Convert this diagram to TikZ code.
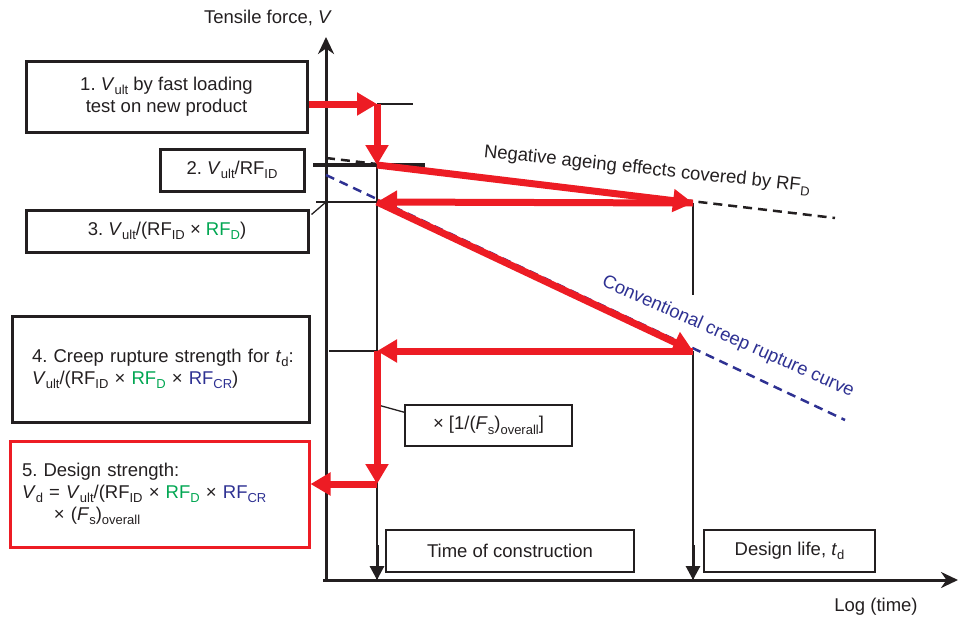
\documentclass[tikz,border=0pt]{standalone}
\usepackage{fontspec}
\setmainfont{Liberation Sans}
\usetikzlibrary{arrows.meta, positioning, calc}
\definecolor{rfRed}{RGB}{237,28,36}
\definecolor{rfGreen}{RGB}{0,166,81}
\definecolor{rfBlue}{RGB}{46,49,146}
\definecolor{rfInk}{RGB}{35,31,32}
\frenchspacing
\newcommand{\low}[1]{\raisebox{-0.24em}{\fontsize{13}{13}\selectfont #1}}
\newcommand{\Vult}{\textit{V}\low{ult}}
\newcommand{\RFid}{RF\low{ID}}
\newcommand{\RFd}{\textcolor{rfGreen}{RF\low{D}}}
\newcommand{\RFcr}{\textcolor{rfBlue}{RF\low{CR}}}
\newcommand{\Fsall}{(\textit{F}\low{s})\low{overall}}

\begin{document}
\begin{tikzpicture}[x=1pt, y=-1pt,
    every node/.style={font=\fontsize{18.5}{22}\selectfont, text=rfInk},
    stage/.style={draw=rfInk, line width=3pt, inner sep=0pt},
    tag/.style={draw=rfInk, line width=1.5pt, inner sep=0pt},
    axis/.style={draw=rfInk, line width=3pt, -{Stealth[length=17pt,width=16pt]}},
    guide/.style={draw=rfInk, line width=1.3pt},
    tick/.style={draw=rfInk, line width=3pt, -{Triangle[length=14pt,width=14pt]}},
    redflow/.style={draw=rfRed, line width=7pt, -{Triangle[length=20pt,width=22pt]}},
    ageing/.style={draw=rfInk, line width=2.5pt, dash pattern=on 9pt off 6pt},
    creepline/.style={draw=rfBlue, line width=2.5pt, dash pattern=on 9pt off 6pt}
  ]
  \useasboundingbox (0,0) rectangle (958,621);

  % axes
  \coordinate (o) at (326,580);
  \coordinate (ytip) at (326,37);
  \coordinate (xtip) at (958,580);
  \draw[axis] (o) -- (ytip);
  \draw[axis] (323,580) -- (xtip);
  \node (vlabel) at (268,18) {Tensile force, \textit{V}};
  \node (tlabel) at (876,607) {Log (time)};

  % points on the graph
  \coordinate (p0) at (377,104);
  \coordinate (p1) at (377,165);
  \coordinate (p2) at (377,202);
  \coordinate (p3) at (377,351);
  \coordinate (p4) at (377,484);
  \coordinate (q2) at (693,203);
  \coordinate (q3) at (693,351);
  \coordinate (tc) at (377,580);
  \coordinate (td) at (693,580);

  % strength curves
  \coordinate (ag0) at (326,158);
  \coordinate (ag1) at (835,218);
  \coordinate (cr0) at (326,175);
  \coordinate (cr1) at (845,420);
  \draw[ageing] (ag0) -- (ag1);
  \draw[creepline] (cr0) -- (cr1);
  \node[rotate=-6] (ageinglabel) at (647,170) {Negative ageing effects covered by RF\low{D}};
  \node[rotate=-24, text=rfBlue] (creeplabel) at (728,337) {Conventional creep rupture curve};

  % boxes
  \node[stage, minimum width=281pt, minimum height=71pt, align=center] (fast) at (166.5,96.5)
    {1. \Vult{} by fast loading\\test on new product};
  \node[stage, minimum width=144pt, minimum height=42pt] (idbox) at (232,170) {2. \Vult/\RFid};
  \node[stage, minimum width=282pt, minimum height=42pt] (dbox) at (167,231) {3. \Vult/(\RFid{} × \RFd)};
  \node[stage, minimum width=297pt, minimum height=106pt, text width=271pt, align=left] (creep) at (160.5,369)
    {\hspace*{7pt}4. Creep rupture strength for \textit{t}\low{d}:\\\hspace*{7pt}\Vult/(\RFid{} × \RFd{} × \RFcr)};
  \node[stage, draw=rfRed, minimum width=299pt, minimum height=106pt, text width=275pt, align=left] (design) at (159.5,494)
    {5. Design strength:\\\textit{V}\low{d} = \Vult/(\RFid{} × \RFd{} × \RFcr\\\hspace*{32pt}× \Fsall};
  \node[tag, minimum width=167pt, minimum height=41pt] (factor) at (488.5,425.5) {× [1/\Fsall]};
  \node[tag, minimum width=248pt, minimum height=42pt] (construct) at (510,551) {Time of construction};
  \node[tag, minimum width=171pt, minimum height=42pt] (life) at (789.5,551) {Design life, \textit{t}\low{d}};

  % guide lines
  \draw[guide] (p0) -- (413,104);
  \draw[rfInk, line width=4pt] (313,165) -- (425,165);
  \draw[guide] (316,202) -- (p2);
  \draw[guide] (329,351) -- (p3);
  \draw[guide] (p1) -- (tc);
  \draw[guide] (q2) -- (693,295);
  \draw[guide] (q3) -- (td);
  \draw[guide] ($(dbox.north east)+(2,6)$) -- (326,202);
  \draw[guide] ($(factor.north west)+(0,8)$) -- (378,405);
  \draw[tick] (377,545) -- (tc);
  \draw[tick] (693,545) -- (td);

  % reduction steps
  \draw[redflow] (fast.east |- p0) -- (p0);
  \draw[redflow] (p0) -- (p1);
  \draw[redflow] (p1) -- (q2);
  \draw[redflow] (q2) -- (p2);
  \draw[redflow] (p2) -- (q3);
  \draw[redflow] (q3) -- (p3);
  \draw[redflow] (p3) -- (p4);
  \draw[redflow] (p4) -- (design.east |- p4);
\end{tikzpicture}
\end{document}
